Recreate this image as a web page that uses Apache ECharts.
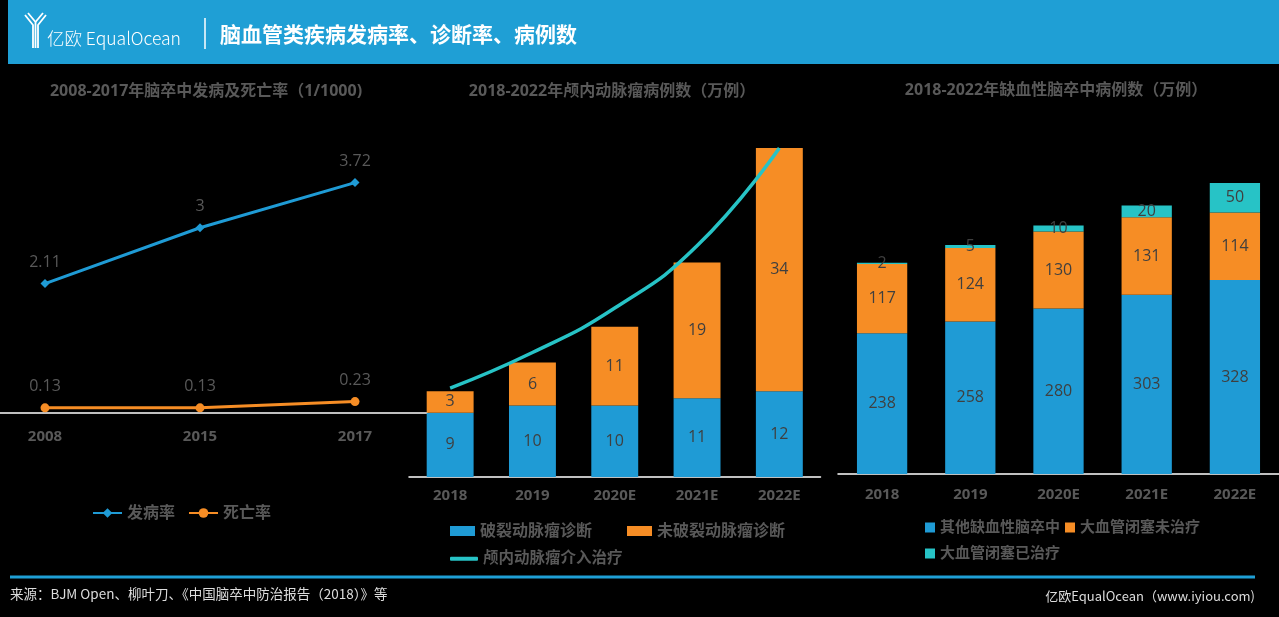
<!DOCTYPE html>
<html>
<head>
<meta charset="utf-8">
<script src="https://cdn.jsdelivr.net/npm/echarts@6/dist/echarts.min.js"></script>
<style>
html,body{margin:0;padding:0;background:#000;}
#c{width:1279px;height:617px;}
</style>
</head>
<body>
<div id="c"></div>
<script>
// ---- data ----
const years1 = ['2008', '2015', '2017'];
const incidence = [2.11, 3, 3.72];
const mortality = [0.13, 0.13, 0.23];

const years2 = ['2018', '2019', '2020E', '2021E', '2022E'];
const ruptured = [9, 10, 10, 11, 12];
const unruptured = [3, 6, 11, 19, 34];
const intervention = [10, 14, 19, 26, 37];

const years3 = ['2018', '2019', '2020E', '2021E', '2022E'];
const otherIschemic = [238, 258, 280, 303, 328];
const lvoUntreated = [117, 124, 130, 131, 114];
const lvoTreated = [2, 5, 10, 20, 50];

// ---- style ----
const FONT = "'Open Sans','Noto Sans CJK SC',sans-serif";
const GRAY = '#595959';
const DARK = '#3f3f3f';
const BLUE = '#1F9BD5';
const ORANGE = '#F68D25';
const TEAL = '#27C3C6';
const HEADER = '#1F9FD5';

const chart = echarts.init(document.getElementById('c'));

const catAxis = (gi, data, margin, extra) => Object.assign({
  type: 'category', gridIndex: gi, data: data,
  axisLine: {lineStyle: {color: '#ffffff', width: 1.5}},
  axisTick: {show: false},
  axisLabel: {color: GRAY, fontSize: 15, fontWeight: 'bold', fontFamily: FONT, margin: margin}
}, extra || {});
const valAxis = (gi, max) => ({
  type: 'value', gridIndex: gi, min: 0, max: max, show: false, splitLine: {show: false}
});
const legendText = (size) => ({color: GRAY, fontSize: size, fontWeight: 'bold', fontFamily: FONT});
const barLabel = {show: true, position: 'inside', color: DARK, fontSize: 16, fontFamily: FONT};

const titleText = (x, y, t) => ({
  type: 'text', x: x, y: y,
  style: {text: t, fill: GRAY, font: "bold 16px " + FONT, textAlign: 'center', textVerticalAlign: 'middle'}
});

chart.setOption({
  backgroundColor: '#000',
  animation: false,
  grid: [
    {left: 45, width: 310, top: 165, height: 251},
    {left: 409, width: 411.5, top: 148, height: 329},
    {left: 838, width: 444.5, top: 183, height: 291}
  ],
  xAxis: [
    catAxis(0, years1, 13, {boundaryGap: false, axisLine: {show: false}}),
    catAxis(1, years2, 11),
    catAxis(2, years3, 13)
  ],
  yAxis: [
    valAxis(0, 4),
    valAxis(1, 46),
    valAxis(1, 37),
    valAxis(2, 492)
  ],
  legend: [
    {left: 87, top: 500, data: ['发病率', '死亡率'], itemWidth: 29, itemHeight: 12, itemGap: 13, textStyle: legendText(16)},
    {left: 445, top: 518, data: ['破裂动脉瘤诊断', '未破裂动脉瘤诊断'], icon: 'rect', itemWidth: 25, itemHeight: 10, itemGap: 35, textStyle: legendText(16)},
    {left: 445, top: 546, data: [{name: '颅内动脉瘤介入治疗', icon: 'roundRect'}], itemWidth: 28, itemHeight: 4, itemGap: 5, textStyle: legendText(15.5)},
    {left: 920, top: 515, data: ['其他缺血性脑卒中', '大血管闭塞未治疗'], icon: 'rect', itemWidth: 10, itemHeight: 10, itemGap: 5, textStyle: legendText(15)},
    {left: 920, top: 541, data: ['大血管闭塞已治疗'], icon: 'rect', itemWidth: 10, itemHeight: 10, itemGap: 5, textStyle: legendText(15)}
  ],
  series: [
    {name: '发病率', type: 'line', xAxisIndex: 0, yAxisIndex: 0, data: incidence,
     symbol: 'diamond', symbolSize: 9, lineStyle: {color: BLUE, width: 3}, itemStyle: {color: BLUE},
     label: {show: true, position: 'top', distance: 9, color: GRAY, fontSize: 16, fontFamily: FONT}},
    {name: '死亡率', type: 'line', xAxisIndex: 0, yAxisIndex: 0, data: mortality,
     symbol: 'circle', symbolSize: 9, lineStyle: {color: ORANGE, width: 3}, itemStyle: {color: ORANGE},
     label: {show: true, position: 'top', distance: 9, color: GRAY, fontSize: 16, fontFamily: FONT}},

    {name: '破裂动脉瘤诊断', type: 'bar', xAxisIndex: 1, yAxisIndex: 1, stack: 'a', data: ruptured,
     barWidth: '57%', itemStyle: {color: BLUE}, label: barLabel},
    {name: '未破裂动脉瘤诊断', type: 'bar', xAxisIndex: 1, yAxisIndex: 1, stack: 'a', data: unruptured,
     barWidth: '57%', itemStyle: {color: ORANGE}, label: barLabel},
    {name: '颅内动脉瘤介入治疗', type: 'line', xAxisIndex: 1, yAxisIndex: 2, data: intervention,
     smooth: true, symbol: 'none', lineStyle: {color: TEAL, width: 3.5}, itemStyle: {color: TEAL},
     label: {show: true, position: 'top', distance: 14, color: GRAY, fontSize: 16, fontFamily: FONT}},

    {name: '其他缺血性脑卒中', type: 'bar', xAxisIndex: 2, yAxisIndex: 3, stack: 'b', data: otherIschemic,
     barWidth: '57%', itemStyle: {color: BLUE}, label: barLabel},
    {name: '大血管闭塞未治疗', type: 'bar', xAxisIndex: 2, yAxisIndex: 3, stack: 'b', data: lvoUntreated,
     barWidth: '57%', itemStyle: {color: ORANGE}, label: barLabel},
    {name: '大血管闭塞已治疗', type: 'bar', xAxisIndex: 2, yAxisIndex: 3, stack: 'b', data: lvoTreated,
     barWidth: '57%', itemStyle: {color: TEAL}, label: barLabel}
  ],
  graphic: [
    {type: 'rect', shape: {x: 8, y: 0, width: 1271, height: 64}, style: {fill: HEADER}},
    // left chart baseline
    {type: 'line', z: 0, shape: {x1: 0, y1: 413, x2: 428, y2: 413}, style: {stroke: '#fff', lineWidth: 1.5}},
    // logo icon
    {type: 'polyline', shape: {points: [[25, 15], [33, 25], [33, 48]]}, style: {stroke: '#fff', lineWidth: 1.8, fill: null}},
    {type: 'polyline', shape: {points: [[28, 13], [35.5, 22], [35.5, 48]]}, style: {stroke: '#fff', lineWidth: 1.8, fill: null}},
    {type: 'polyline', shape: {points: [[46, 15], [38, 25], [38, 48]]}, style: {stroke: '#fff', lineWidth: 1.8, fill: null}},
    {type: 'polyline', shape: {points: [[43, 13], [35.5, 22]]}, style: {stroke: '#fff', lineWidth: 1.8, fill: null}},
    {type: 'text', x: 47, y: 38, style: {text: '亿欧 EqualOcean', fill: '#fff', font: "300 17.5px 'Noto Sans CJK SC','Open Sans',sans-serif", textVerticalAlign: 'middle'}},
    {type: 'line', shape: {x1: 205, y1: 18, x2: 205, y2: 49}, style: {stroke: '#fff', lineWidth: 1.5}},
    {type: 'text', x: 220, y: 34, style: {text: '脑血管类疾病发病率、诊断率、病例数', fill: '#fff', font: "bold 21px 'Noto Sans CJK SC',sans-serif", textVerticalAlign: 'middle'}},
    titleText(206, 91, '2008-2017年脑卒中发病及死亡率（1/1000)'),
    titleText(612, 91, '2018-2022年颅内动脉瘤病例数（万例）'),
    titleText(1056, 90, '2018-2022年缺血性脑卒中病例数（万例）'),
    {type: 'line', shape: {x1: 10, y1: 577, x2: 1255, y2: 577}, style: {stroke: HEADER, lineWidth: 3}},
    {type: 'text', x: 10, y: 594, style: {text: '来源：BJM Open、柳叶刀、《中国脑卒中防治报告（2018）》等', fill: '#dddddd', font: "13.5px 'Noto Sans CJK SC',sans-serif", textVerticalAlign: 'middle'}},
    {type: 'text', x: 1255, y: 596, style: {text: '亿欧EqualOcean（www.iyiou.com)', fill: '#dddddd', font: "13px 'Noto Sans CJK SC',sans-serif", textAlign: 'right', textVerticalAlign: 'middle'}}
  ]
});
</script>
</body>
</html>
